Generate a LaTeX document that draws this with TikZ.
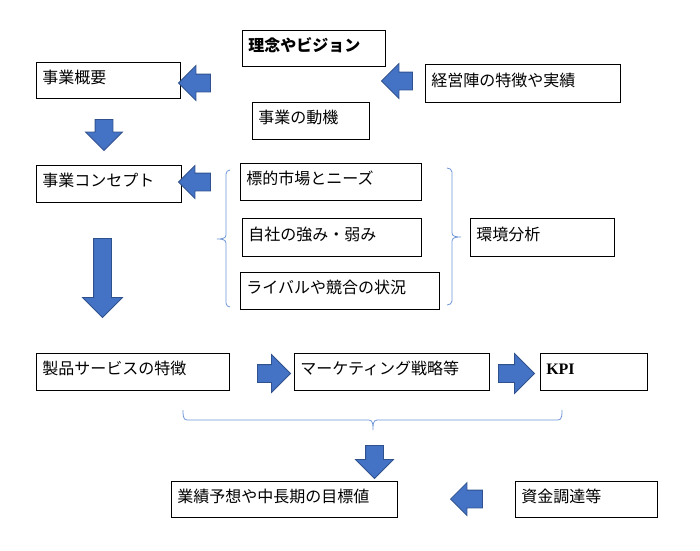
\documentclass[tikz,border=0pt]{standalone}
\usepackage{fontspec}
\setmainfont{Noto Sans CJK JP}
\newfontfamily\latinfont{Liberation Serif}
\usetikzlibrary{shapes.arrows,positioning}
\definecolor{arrowfill}{HTML}{4472C4}
\definecolor{arrowedge}{HTML}{2F528F}
\definecolor{bracecol}{HTML}{6F96D6}

\begin{document}
\begin{tikzpicture}[x=1pt,y=1pt,
  font=\fontsize{16}{19}\selectfont,
  box/.style={draw, line width=.9pt, anchor=north west, inner xsep=6pt, inner ysep=0pt,
    align=left, text height=12pt, text depth=6pt},
  blkarrow/.style 2 args={single arrow, draw=arrowedge, fill=arrowfill, line width=.8pt,
    inner xsep=0pt, inner ysep=8.5pt, minimum height=#1, single arrow head extend=#2},
  bracket/.style={draw=bracecol, line width=.8pt}]
  \useasboundingbox (0,0) rectangle (700,-550);

  % upper part
  \node[box, text width=131pt, minimum height=36pt, font=\fontsize{16}{19}\selectfont\bfseries] (rinen) at (242,-30) {理念やビジョン};
  \node[box, text width=132pt, minimum height=36pt] (gaiyou) at (36,-62) {事業概要};
  \node[box, text width=183pt, minimum height=38pt] (keiei) at (425,-64) {経営陣の特徴や実績};
  \node[box, text width=105pt, minimum height=37pt] (doki) at (252,-102) {事業の動機};
  \node[box, text width=133pt, minimum height=37pt, below=66pt of gaiyou.south west, anchor=north west] (concept) {事業コンセプト};

  % environment analysis
  \node[box, text width=169pt, minimum height=37pt] (hyoteki) at (240,-163) {標的市場とニーズ};
  \node[box, text width=167pt, minimum height=38pt] (jisha) at (242,-218) {自社の強み・弱み};
  \node[box, text width=187pt, minimum height=37pt] (rival) at (240,-272) {ライバルや競合の状況};
  \node[box, text width=132pt, minimum height=38pt] (kankyo) at (470,-218) {環境分析};

  % lower part
  \node[box, text width=181pt, minimum height=37pt] (seihin) at (36,-353) {製品サービスの特徴};
  \node[box, text width=183pt, minimum height=37pt, right=64pt of seihin.north east, anchor=north west] (marketing) {マーケティング戦略等};
  \node[box, text width=95pt, minimum height=37pt, right=50pt of marketing.north east, anchor=north west] (kpi) {\latinfont\bfseries KPI};
  \node[box, text width=214pt, minimum height=36pt] (gyoseki) at (171,-481) {業績予想や中長期の目標値};
  \node[box, text width=130pt, minimum height=36pt] (shikin) at (515,-481) {資金調達等};

  % block arrows
  \node[blkarrow={32pt}{8.5pt}, rotate=180] (a1) at (199,-83) {};
  \node[blkarrow={31pt}{8.5pt}, rotate=180] (a2) at (401.5,-81) {};
  \node[blkarrow={31pt}{9.5pt}, rotate=-90] (a3) at (104,-130.5) {};
  \node[blkarrow={32pt}{7.5pt}, rotate=180] (a4) at (199,-182) {};
  \node[blkarrow={79pt}{11pt}, rotate=-90] (a5) at (102.5,-273.5) {};
  \node[blkarrow={33pt}{10pt}] (a6) at (269.5,-373.5) {};
  \node[blkarrow={36pt}{11pt}] (a7) at (512,-373.5) {};
  \node[blkarrow={33pt}{10pt}, rotate=-90] (a8) at (374.5,-457.5) {};
  \node[blkarrow={32pt}{7.5pt}, rotate=180] (a9) at (471,-499) {};

  % braces
  \draw[bracket] (230,-170) to[out=180,in=90] (226,-174) -- (226,-235)
    to[out=-90,in=0] (217,-239) to[out=0,in=90] (226,-243) -- (226,-303)
    to[out=-90,in=180] (230,-307);
  \draw[bracket] (447,-168) to[out=0,in=90] (452,-172) -- (452,-233)
    to[out=-90,in=180] (461,-237) to[out=180,in=90] (452,-241) -- (452,-301)
    to[out=-90,in=0] (447,-305);
  \draw[bracket] (183,-410) to[out=-90,in=180] (187,-420) -- (369,-420)
    to[out=0,in=90] (373,-430) to[out=90,in=180] (377,-420) -- (558,-420)
    to[out=0,in=-90] (562,-410);
\end{tikzpicture}
\end{document}
